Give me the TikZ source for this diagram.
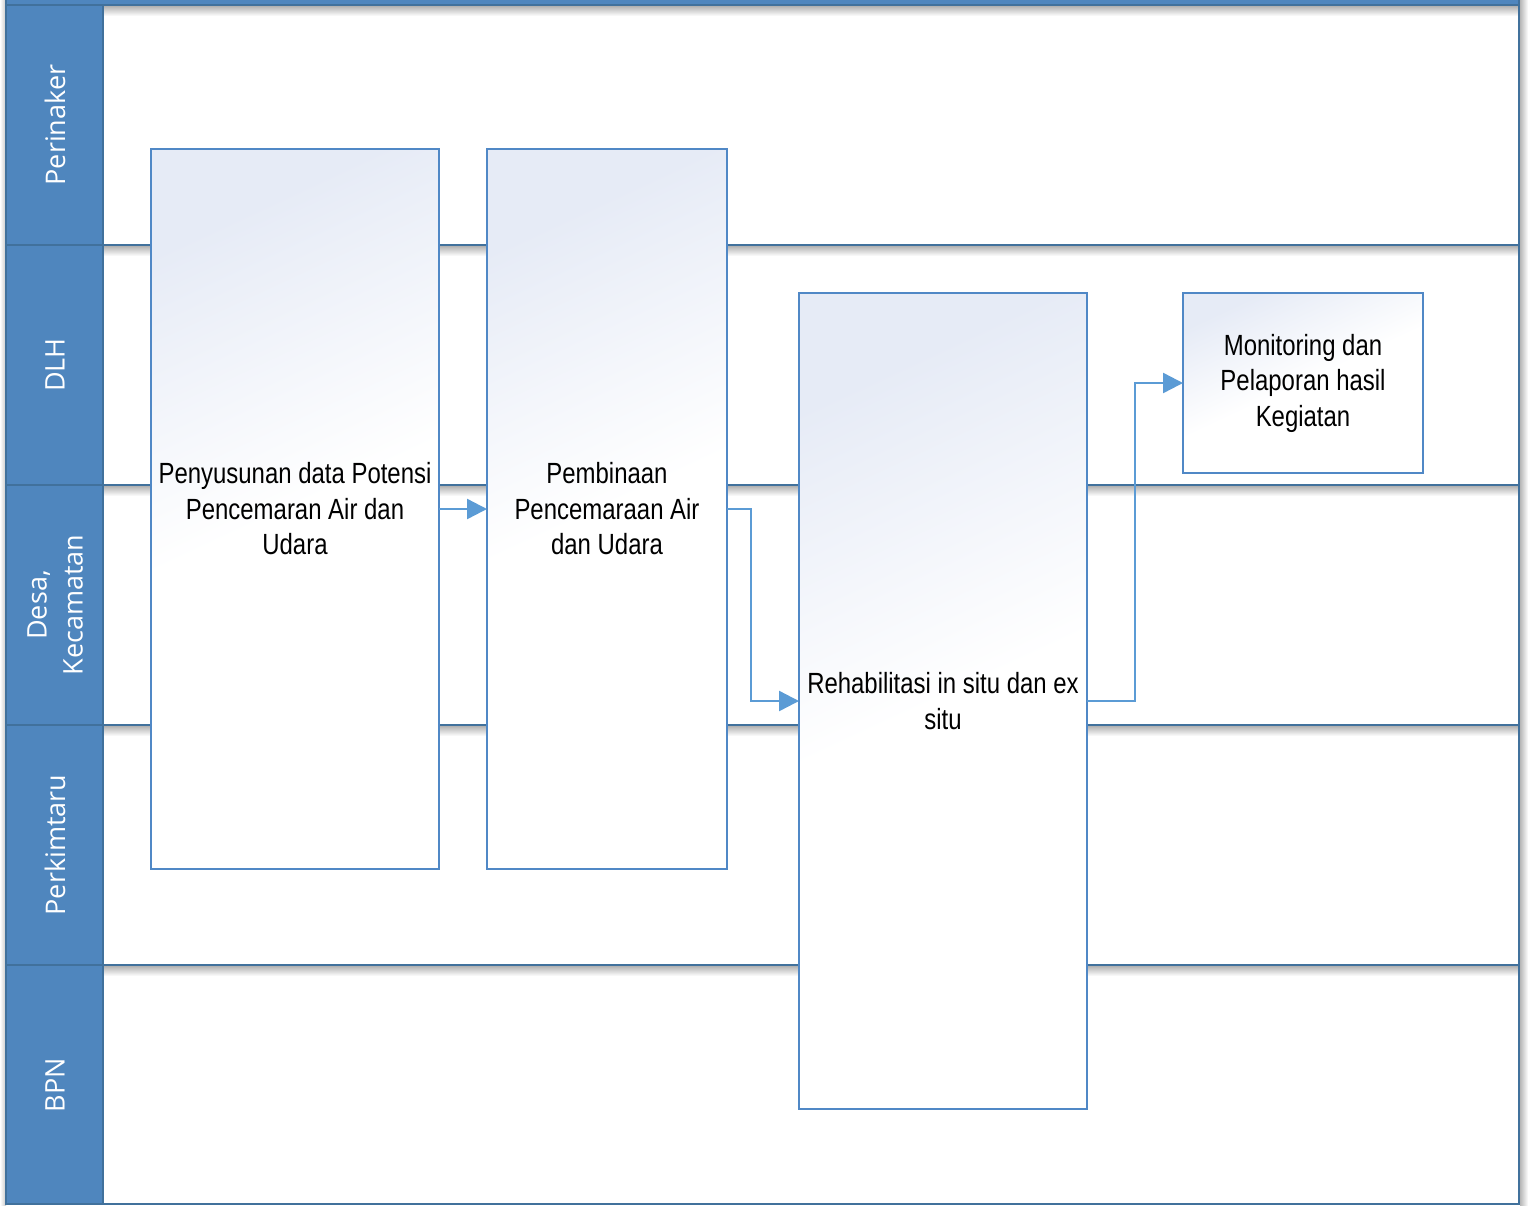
\documentclass[tikz,border=0pt]{standalone}
\usepackage{fontspec}
\setmainfont[FakeStretch=0.82]{Liberation Sans}
\newfontfamily\lanefont{Open Sans}
\usetikzlibrary{arrows.meta}
\definecolor{hdr}{RGB}{79,134,190}
\definecolor{frameline}{RGB}{65,113,156}
\definecolor{boxline}{RGB}{80,136,198}
\definecolor{arrowc}{RGB}{91,155,213}
\definecolor{boxtop}{RGB}{230,235,246}
\tikzset{
  laneline/.style={draw=frameline, line width=1.1pt},
  lanelbl/.style={text=white, font=\lanefont\fontsize{13.5}{18}\selectfont, align=center, rotate=90, inner sep=0pt},
  procbox/.style={draw=boxline, line width=1pt, inner sep=2pt, outer sep=0pt, align=center,
    font=\fontsize{14.6}{17.75}\selectfont, shading=axis, top color=boxtop, bottom color=white, middle color=white, shading angle=25},
  flow/.style={draw=arrowc, line width=1.2pt, -{Triangle[length=10pt,width=10pt]}},
  laneshadow/.style={top color=black!30, bottom color=white}
}
\begin{document}
\begin{tikzpicture}[x=0.5pt,y=-0.5pt]
\useasboundingbox (0,0) rectangle (1530,1205);
\fill[white] (0,0) rectangle (1530,1205);
% outer shadows
\shade[left color=white, right color=black!22] (0,0) rectangle (6,1205);
\shade[left color=black!28, right color=white] (1520,0) rectangle (1528,1205);
% top band
\fill[hdr] (6,-10) rectangle (1519,5);
% header column
\fill[hdr] (6,5) rectangle (103,1204);
% lane shadows
\foreach \yy in {5,245,485,725,965} {
  \shade[laneshadow] (104,\yy+1) rectangle (1518,\yy+11);
}
% frame lines
\draw[laneline] (6,0) -- (6,1204) -- (1519,1204) -- (1519,0);
\draw[laneline] (103,5) -- (103,1204);
\foreach \yy in {5,245,485,725,965} {
  \draw[laneline] (6,\yy) -- (1519,\yy);
}
% lane labels
\node[lanelbl] (l1) at (55,125) {Perinaker};
\node[lanelbl] (l2) at (55,365) {DLH};
\node[lanelbl] (l3) at (55,605) {Desa,\\Kecamatan};
\node[lanelbl] (l4) at (55,845) {Perkimtaru};
\node[lanelbl] (l5) at (55,1085) {BPN};
% process boxes
\node[procbox, minimum width=144pt, minimum height=360pt] (b1) at (295,509)
  {Penyusunan data Potensi\\Pencemaran Air dan\\Udara};
\node[procbox, minimum width=120pt, minimum height=360pt] (b2) at (607,509)
  {Pembinaan\\Pencemaraan Air\\dan Udara};
\node[procbox, minimum width=144pt, minimum height=408pt] (b3) at (943,701)
  {Rehabilitasi in situ dan ex\\situ};
\node[procbox, minimum width=120pt, minimum height=90pt] (b4) at (1303,383)
  {Monitoring dan\\Pelaporan hasil\\Kegiatan};
% connectors
\draw[flow] (b1.east) -- (b2.west);
\draw[flow] (b2.east) -- ++(24,0) |- (b3.west);
\draw[flow] (b3.east) -- ++(48,0) |- (b4.west);
\end{tikzpicture}
\end{document}
